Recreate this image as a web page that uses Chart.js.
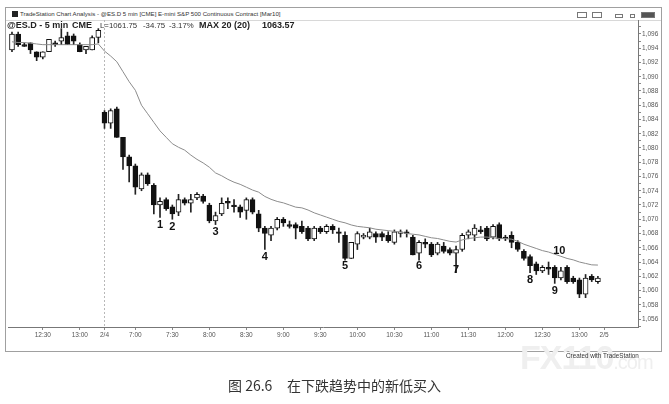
<!DOCTYPE html>
<html><head><meta charset="utf-8">
<script src="https://cdn.jsdelivr.net/npm/chart.js@4"></script>
<style>
html,body{margin:0;padding:0;background:#fff;width:669px;height:404px;overflow:hidden;font-family:"Liberation Sans",Arial,sans-serif}
.abs{position:absolute;white-space:pre}
#frame{position:absolute;left:5px;top:7px;width:657px;height:345px;border:1px solid #a0a0a0;box-sizing:border-box}
#tbar{position:absolute;left:6px;top:8px;width:655px;height:12px;border-bottom:1px solid #d8d8d8}
#cv{position:absolute;left:0;top:0}
.btn{position:absolute;top:12px;height:6px;border:1px solid #777;box-sizing:border-box}
</style></head>
<body>
<div id="frame"></div>
<div id="tbar"></div>
<div class="abs" style="left:12px;top:11px;width:6px;height:6px;background:#222"></div>
<div class="abs" style="left:20px;top:10px;font-size:6.1px;color:#333">TradeStation Chart Analysis - @ES.D 5 min [CME] E-mini S&amp;P 500 Continuous Contract [Mar10]</div>
<div class="btn" style="left:577px;width:10px"></div>
<div class="btn" style="left:592px;width:10px"></div>
<div class="btn" style="left:615px;width:8px;height:4px;top:14px"></div>
<div class="btn" style="left:630px;width:5px;height:4px;top:14px"></div>
<div class="btn" style="left:641px;width:14px;background:#555"></div>
<canvas id="cv" width="669" height="404"></canvas>
<div class="abs" style="left:7px;top:20px;font-size:9px;font-weight:bold;color:#222">@ES.D - 5 min</div>
<div class="abs" style="left:72px;top:20px;font-size:9px;font-weight:bold;color:#222">CME</div>
<div class="abs" style="left:100px;top:20.5px;font-size:7.8px;color:#333">L=1061.75</div>
<div class="abs" style="left:143px;top:20.5px;font-size:7.8px;color:#333">-34.75</div>
<div class="abs" style="left:169px;top:20.5px;font-size:7.8px;color:#333">-3.17%</div>
<div class="abs" style="left:199px;top:20px;font-size:9px;font-weight:bold;color:#222">MAX 20 (20)</div>
<div class="abs" style="left:262px;top:20px;font-size:9px;font-weight:bold;color:#222">1063.57</div>
<div class="abs" style="left:520px;top:338px;font-size:34px;font-weight:bold;color:#efefef;letter-spacing:-1px">FX110<span style="font-size:20px;font-weight:normal">.com</span></div>
<div class="abs" style="left:566px;top:352px;font-size:6.3px;color:#333">Created with TradeStation</div>
<div class="abs" style="left:228px;top:375px;font-size:14px;color:#333;font-family:'Noto Sans CJK SC',sans-serif">图 26.6</div>
<div class="abs" style="left:287px;top:375px;font-size:14px;color:#333;font-family:'Noto Sans CJK SC',sans-serif">在下跌趋势中的新低买入</div>
<script>
// ---- categories (5-minute bars) ----
const seg1Times = ['12:05','12:10','12:15','12:20','12:25','12:30','12:35','12:40','12:45','12:50','12:55','13:00','13:05','13:10','13:15'];
const seg2Times = ['6:35','6:40','6:45','6:50','6:55',
 '7:00','7:05','7:10','7:15','7:20','7:25','7:30','7:35','7:40','7:45','7:50','7:55',
 '8:00','8:05','8:10','8:15','8:20','8:25','8:30','8:35','8:40','8:45','8:50','8:55',
 '9:00','9:05','9:10','9:15','9:20','9:25','9:30','9:35','9:40','9:45','9:50','9:55',
 '10:00','10:05','10:10','10:15','10:20','10:25','10:30','10:35','10:40','10:45','10:50','10:55',
 '11:00','11:05','11:10','11:15','11:20','11:25','11:30','11:35','11:40','11:45','11:50','11:55',
 '12:00','12:05','12:10','12:15','12:20','12:25','12:30','12:35','12:40','12:45','12:50','12:55',
 '13:00','13:05','13:10','13:15'];
const padTimes = ['','','','','',''];
const categories = seg1Times.concat(seg2Times, padTimes);

// ---- tick labels ----
const timeTicks = ['12:30','13:00','7:00','7:30','8:00','8:30','9:00','9:30','10:00','10:30','11:00','11:30','12:00'];
const dayLabels = ['2/4','2/5'];
const dayStarts = [15, 96];
const yLabelTicks = [1056,1058,1060,1062,1064,1066,1068,1070,1072,1074,1076,1078,1080,1082,1084,1086,1088,1090,1092,1094,1096];
const yMinorTicks = [1055,1057,1059,1061,1063,1065,1067,1069,1071,1073,1075,1077,1079,1081,1083,1085,1087,1089,1091,1093,1095,1097];

// ---- OHLC ----
const opens = [1093.75,1096.0,1094.5,1094.75,1093.5,1092.75,1093.5,1094.75,1095.0,1095.75,1095.75,1094.5,1093.75,1093.75,1095.5,
 1085.0,1083.5,1085.5,1081.5,1078.75,1077.5,1074.25,1076.25,1074.75,1072.0,
 1072.75,1071.75,1071.0,1072.75,1072.25,1073.0,1073.25,1072.0,1069.75,1070.75,
 1072.5,1072.0,1071.75,1071.25,1072.75,1070.75,1068.75,1067.75,1068.75,1070.0,
 1069.25,1069.25,1069.0,1068.75,1067.25,1068.75,1068.25,1069.0,1068.25,1067.75,
 1064.5,1066.5,1067.5,1067.5,1068.0,1068.0,1067.75,1066.75,1068.0,1068.25,
 1067.5,1065.25,1066.75,1066.5,1065.25,1066.25,1065.75,1065.25,1065.75,1067.75,
 1067.75,1068.5,1068.75,1067.5,1069.25,1067.5,1067.75,1066.75,1065.5,1064.75,
 1063.75,1062.75,1063.25,1063.25,1061.75,1063.25,1061.75,1061.5,1059.5,1062.0,1061.25];
const highs = [1096.25,1096.25,1094.75,1094.75,1093.5,1093.5,1095.25,1095.0,1096.75,1096.25,1096.0,1094.75,1094.25,1095.75,1096.75,
 1085.25,1085.5,1085.75,1081.5,1079.0,1077.75,1076.5,1076.5,1075.0,1073.0,
 1073.0,1072.0,1073.5,1073.0,1073.5,1073.75,1073.5,1072.25,1071.0,1073.0,
 1073.0,1072.75,1072.0,1073.0,1073.0,1071.25,1069.0,1069.0,1070.25,1070.25,
 1069.75,1069.5,1069.75,1069.0,1069.0,1069.0,1069.25,1069.25,1068.75,1068.25,
 1066.75,1068.25,1068.0,1068.75,1068.25,1068.25,1068.25,1068.5,1068.5,1068.5,
 1067.75,1067.0,1067.25,1066.75,1066.75,1066.75,1066.0,1066.25,1068.0,1068.5,
 1069.25,1069.0,1069.0,1069.25,1069.5,1067.75,1068.25,1067.0,1065.75,1065.0,
 1064.0,1063.5,1064.0,1063.5,1063.25,1063.5,1062.0,1061.75,1062.25,1062.25,1062.0];
const lows = [1093.5,1094.25,1094.25,1093.25,1092.25,1092.5,1093.5,1094.25,1094.5,1094.5,1094.5,1093.5,1093.25,1093.75,1094.75,
 1082.75,1082.75,1081.5,1077.0,1075.25,1073.5,1074.0,1074.75,1070.75,1070.25,
 1071.25,1070.0,1070.5,1072.0,1071.0,1072.75,1072.25,1069.5,1069.25,1070.5,
 1071.5,1071.0,1070.25,1070.0,1070.75,1068.25,1065.75,1067.0,1068.5,1069.0,
 1068.75,1067.25,1068.0,1067.0,1067.0,1068.0,1068.0,1068.0,1066.75,1064.25,
 1064.5,1065.75,1067.25,1067.25,1066.75,1067.0,1066.75,1066.5,1067.5,1067.5,
 1065.0,1064.25,1066.0,1064.75,1065.0,1065.25,1065.0,1062.5,1065.5,1067.25,
 1067.0,1068.0,1067.0,1067.25,1067.0,1067.0,1066.0,1065.5,1064.25,1062.5,
 1062.25,1062.5,1062.25,1061.0,1061.5,1061.0,1061.0,1059.0,1059.0,1061.25,1061.0];
const closes = [1096.0,1094.5,1094.25,1093.75,1092.75,1093.5,1095.25,1094.5,1095.5,1094.5,1095.0,1093.5,1094.25,1095.5,1096.5,
 1083.5,1085.25,1081.5,1078.75,1077.5,1074.5,1076.25,1075.0,1072.0,1072.5,
 1071.5,1070.75,1072.75,1072.25,1072.75,1073.5,1072.5,1069.75,1070.5,1072.25,
 1072.25,1071.75,1071.0,1072.75,1071.0,1068.75,1068.0,1068.75,1070.0,1069.5,
 1069.0,1068.75,1068.25,1067.25,1068.75,1068.25,1069.0,1068.5,1068.0,1064.5,
 1066.75,1068.0,1067.75,1068.25,1067.5,1067.5,1067.0,1068.25,1068.25,1068.0,
 1065.0,1066.75,1066.5,1065.0,1066.5,1065.5,1065.25,1065.75,1067.75,1068.25,
 1068.75,1068.25,1067.25,1069.0,1067.25,1067.25,1066.75,1065.75,1064.5,1063.5,
 1062.75,1063.25,1063.0,1061.75,1062.75,1061.25,1061.25,1059.5,1061.75,1061.5,1061.75];
// ---- MAX 20 line ----
const maValues = [1094.9,1094.8,1094.8,1094.7,1094.6,1094.5,1094.5,1094.5,1094.5,1094.5,1094.5,1094.5,1094.5,1094.5,1094.6,
 1093.6,1092.9,1092.1,1090.7,1089.3,1088.1,1086.0,1084.8,1083.6,1082.4,
 1081.5,1080.6,1080.1,1079.7,1079.0,1078.4,1077.9,1077.3,1076.5,1076.1,
 1075.6,1075.2,1074.9,1074.5,1074.1,1073.8,1073.2,1072.8,1072.5,1072.3,
 1072.0,1071.7,1071.6,1071.3,1070.9,1070.6,1070.3,1070.0,1069.7,1069.5,
 1069.2,1069.0,1068.9,1068.8,1068.6,1068.5,1068.4,1068.3,1068.2,1068.0,
 1067.9,1067.8,1067.6,1067.4,1067.3,1067.1,1066.9,1066.8,1067.1,1067.3,
 1067.4,1067.5,1067.5,1067.4,1067.3,1067.3,1067.2,1066.9,1066.5,1066.2,
 1065.9,1065.6,1065.4,1065.1,1064.8,1064.5,1064.3,1064.0,1063.8,1063.6,1063.57];
// ---- numbered annotations ----
const noteText = ['1','2','3','4','5','6','7','8','9','10'];
const noteBar = [24,26,33,41,54,66,72,84,88,88.75];
const notePrice = [1069.2,1068.95,1068.25,1064.65,1063.45,1063.4,1062.85,1061.45,1060.0,1065.6];

const wicks = lows.map((l,i)=>[l, highs[i]]);
const bodies = opens.map((o,i)=>[Math.min(o,closes[i]), Math.max(o,closes[i])]);
const bodyFill = opens.map((o,i)=> closes[i] >= o ? '#ffffff' : '#111111');

const notesPlugin = {
  id:'notes',
  afterDatasetsDraw(chart){
    const {ctx, scales:{x,y}} = chart;
    ctx.save();
    ctx.font = 'bold 11px "Liberation Sans", Arial, sans-serif';
    ctx.fillStyle = '#111';
    ctx.textAlign = 'center';
    ctx.textBaseline = 'middle';
    noteText.forEach((t,i)=>{
      ctx.fillText(t, x.getPixelForValue(noteBar[i]), y.getPixelForValue(notePrice[i]));
    });
    ctx.restore();
  }
};

new Chart(document.getElementById('cv'), {
  type:'bar',
  data:{
    labels: categories,
    datasets:[
      {type:'line', label:'MAX 20', data:maValues, borderColor:'#8c8c8c', borderWidth:1, pointRadius:0, tension:0, order:0},
      {type:'bar', label:'body', data:bodies, backgroundColor:bodyFill, borderColor:'#111', borderWidth:1, borderSkipped:false, barThickness:5, grouped:false, order:1},
      {type:'bar', label:'wick', data:wicks, backgroundColor:'#222', borderWidth:0, barThickness:1, grouped:false, order:2}
    ]
  },
  options:{
    responsive:false, animation:false, devicePixelRatio:1,
    layout:{padding:{left:8.9, top:20, right:8, bottom:54}},
    plugins:{legend:{display:false}, tooltip:{enabled:false}},
    scales:{
      x:{
        type:'category', offset:true,
        afterFit(s){ s.height = 23; },
        border:{display:true, color:'#777', width:1, dash:[2,2]},
        grid:{offset:false, drawOnChartArea:true, drawTicks:true, tickLength:3,
          color:(c)=> c.index === dayStarts[0] ? '#b8b8b8' : 'rgba(0,0,0,0)',
          tickColor:(c)=> { const i=c.index; return (dayStarts.includes(i) || timeTicks.includes(categories[i])) ? '#888' : 'rgba(0,0,0,0)'; }},
        ticks:{autoSkip:false, maxRotation:0, minRotation:0, padding:1, color:'#555',
          font:{size:6.5, family:'"Liberation Sans", Arial, sans-serif'},
          callback:(v,i)=>{ const d = dayStarts.indexOf(i); if(d>=0) return dayLabels[d]; return timeTicks.includes(categories[i]) ? categories[i] : ''; }}
      },
      y:{
        type:'linear', position:'right', min:1054.88, max:1097.96,
        afterFit(s){ s.width = 23; },
        afterBuildTicks(s){ s.ticks = yLabelTicks.concat(yMinorTicks).sort((a,b)=>a-b).map(v=>({value:v})); },
        border:{display:true, color:'#777', width:1},
        grid:{drawOnChartArea:false, drawTicks:true, tickLength:3, color:'#888'},
        ticks:{autoSkip:false, padding:1, color:'#555', font:{size:6.5, family:'"Liberation Sans", Arial, sans-serif'},
          callback:(v)=> yLabelTicks.includes(v) ? v.toLocaleString('en-US') : ''}
      }
    }
  },
  plugins:[notesPlugin]
});
</script>
</body></html>
